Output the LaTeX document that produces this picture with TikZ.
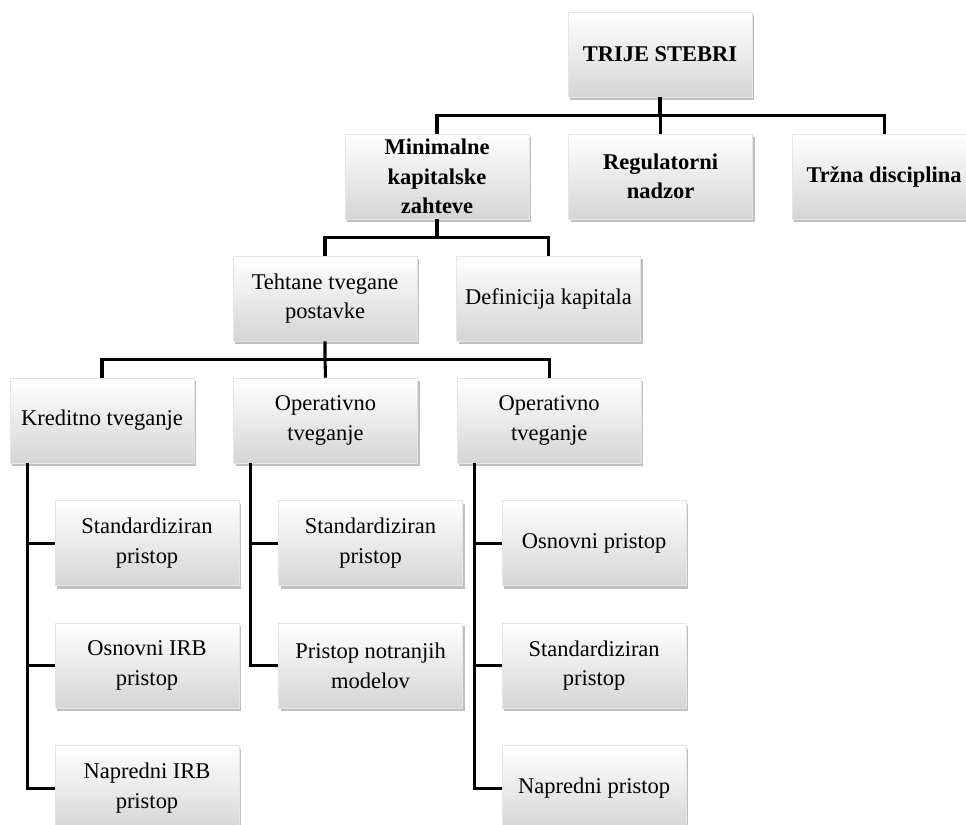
\documentclass[tikz,border=0pt]{standalone}
\usepackage{fontspec}
\setmainfont{Liberation Serif}
\usetikzlibrary{positioning,shadows}

\begin{document}
\begin{tikzpicture}[
    box/.style={draw=gray!20, top color=white, bottom color=gray!33, minimum width=4.6cm, minimum height=2.125cm,
        align=center, font=\fontsize{16}{21}\selectfont,
        drop shadow={shadow xshift=0.05cm, shadow yshift=-0.08cm, opacity=0.5}},
    boldbox/.style={box, font=\fontsize{16}{21}\selectfont\bfseries},
    link/.style={line width=2.2pt}]
    \useasboundingbox (0,0) rectangle (24.15,-20.6);
    % levels
    \node[boldbox] (top) at (16.5,-1.3625) {TRIJE STEBRI};
    \node[boldbox] (minkap) at (10.925,-4.4125) {Minimalne\\kapitalske\\zahteve};
    \node[boldbox, right=0.975cm of minkap] (regnad) {Regulatorni\\nadzor};
    \node[boldbox, right=0.975cm of regnad] (trzdis) {Tržna disciplina};
    \node[box] (tehtane) at (8.125,-7.4625) {Tehtane tvegane\\postavke};
    \node[box, right=0.975cm of tehtane] (defkap) {Definicija kapitala};
    \node[box] (kred) at (2.55,-10.5125) {Kreditno tveganje};
    \node[box, right=0.975cm of kred] (oper) {Operativno\\tveganje};
    \node[box, right=0.975cm of oper] (operb) {Operativno\\tveganje};
    % children
    \node[box, below=0.925cm of kred, xshift=1.125cm] (k1) {Standardiziran\\pristop};
    \node[box, below=0.925cm of k1] (k2) {Osnovni IRB\\pristop};
    \node[box, below=0.925cm of k2] (k3) {Napredni IRB\\pristop};
    \node[box, below=0.925cm of oper, xshift=1.125cm] (o1) {Standardiziran\\pristop};
    \node[box, below=0.925cm of o1] (o2) {Pristop notranjih\\modelov};
    \node[box, below=0.925cm of operb, xshift=1.125cm] (p1) {Osnovni pristop};
    \node[box, below=0.925cm of p1] (p2) {Standardiziran\\pristop};
    \node[box, below=0.925cm of p2] (p3) {Napredni pristop};
    % connectors
    \draw[link] (top.south) -- ++(0,-0.45) coordinate (t1);
    \draw[link] (minkap.north) |- (t1) -| (trzdis.north);
    \draw[link] (regnad.north) -- (regnad.north |- t1);
    \draw[link] (minkap.south) -- ++(0,-0.45) coordinate (m1);
    \draw[link] (tehtane.north) |- (m1) -| (defkap.north);
    \draw[link] (tehtane.south) -- ++(0,-0.45) coordinate (t2) -- (oper.north);
    \draw[link] (kred.north) |- (t2) -| (operb.north);
    \foreach \p in {kred,oper,operb}
        \coordinate (\p-s) at ([xshift=0.44cm]\p.south west);
    \foreach \p/\c in {kred/k3,oper/o2,operb/p3}
        \draw[link] (\p-s) |- (\c.west);
    \foreach \p/\c in {kred/k1,kred/k2,oper/o1,operb/p1,operb/p2}
        \draw[link] (\c.west) -- (\c.west -| \p-s);
\end{tikzpicture}
\end{document}
